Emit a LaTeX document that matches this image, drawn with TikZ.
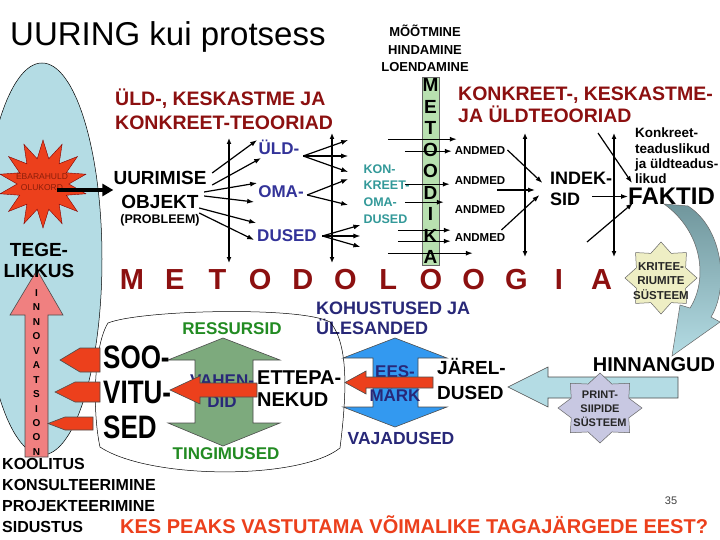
\documentclass[tikz,border=0pt]{standalone}
\usepackage{fontspec}
\setmainfont{Liberation Sans}
\usetikzlibrary{shapes.geometric, arrows.meta, positioning}

\definecolor{skyfill}{RGB}{180,220,228}
\definecolor{theoryred}{RGB}{140,16,16}
\definecolor{propblue}{RGB}{51,51,153}
\definecolor{dutyblue}{RGB}{40,40,120}
\definecolor{tealtxt}{RGB}{51,153,153}
\definecolor{colgreen}{RGB}{184,224,176}
\definecolor{redarr}{RGB}{236,64,28}
\definecolor{pinkarr}{RGB}{240,128,128}
\definecolor{sagegreen}{RGB}{125,170,125}
\definecolor{aimblue}{RGB}{51,153,240}
\definecolor{paleyellow}{RGB}{238,238,196}
\definecolor{lavgray}{RGB}{200,200,226}
\definecolor{slate}{RGB}{112,150,156}
\definecolor{resgreen}{RGB}{34,139,34}
\definecolor{ebarared}{RGB}{140,30,10}

\tikzset{
  txt/.style 2 args={inner sep=0pt, align=center, font=\bfseries\fontsize{#1}{#2}\selectfont},
  arr/.style={-{Latex[length=7pt,width=5pt]}, line width=1.2pt},
  varr/.style={{Latex[length=6pt,width=5pt]}-{Latex[length=6pt,width=5pt]}, line width=1.2pt},
  bigarr/.style={-{Triangle[length=11pt,width=12pt]}, line width=3.5pt},
  blockarr/.style={draw=black!70, line width=0.6pt},
  seal/.style={star, star points=8, star point ratio=1.35, inner sep=0pt, draw=black!60, line width=0.5pt},
}

\begin{document}
\begin{tikzpicture}[x=1pt, y=-1pt]
  \useasboundingbox (0,0) rectangle (720,540);
  \clip (0,0) rectangle (720,540);
  \fill[white] (0,0) rectangle (720,540);

  % tegelikkus
  \draw[fill=skyfill, line width=0.5pt] (42,259) ellipse [x radius=60, y radius=196];
  \node[star, star points=14, star point ratio=1.7, minimum size=88, inner sep=0pt,
    fill=redarr, draw=red!50!black] (ebara) at (43,184) {};
  \node[inner sep=0pt, align=center, text=ebarared, font=\fontsize{8.5}{11.5}\selectfont]
    (ebaratxt) at (42,182) {EBARAHULD\\OLUKORD};
  \draw[blockarr, fill=pinkarr] (37,270) -- (63,315) -- (48,315) -- (48,457) -- (25,457)
    -- (25,315) -- (10,315) -- cycle;
  \foreach \ch [count=\i from 0] in {I,N,N,O,V,A,T,S,I,O,O,N}
    \node[txt={10}{10}] (inn\i) at (36.5,293+14.45*\i) {\ch};
  \node[txt={19}{21}] (tegelikkus) at (39,260.5) {TEGE-\\LIKKUS};

  \node[anchor=base west, inner sep=0pt, font=\fontsize{33}{33}\selectfont] (title) at (10,46)
    {UURING kui protsess};

  % teooriad
  \node[txt={19.5}{24}, align=left, anchor=west, text=theoryred] (uldkesk) at (115,109)
    {ÜLD-, KESKASTME JA\\KONKREET-TEOORIAD};
  \node[txt={19.5}{22}, align=left, anchor=west, text=theoryred] (konkesk) at (458,105)
    {KONKREET-, KESKASTME-\\JA ÜLDTEOORIAD};
  \node[txt={13}{17.5}] (mootmine) at (425,48.5) {MÕÕTMINE\\HINDAMINE\\LOENDAMINE};

  % objekt ja omadused
  \node[txt={19}{24}] (objekt) at (160,190) {UURIMISE\\OBJEKT};
  \node[txt={12.5}{14}] (problem) at (160,220) {(PROBLEEM)};
  \draw[bigarr] ([shift={(14,6)}]ebara.center) -- (objekt.west);

  \node[txt={17}{17}, text=propblue] (uld) at (279,147.5) {ÜLD-};
  \node[txt={17}{17}, text=propblue] (oma) at (281,191.5) {OMA-};
  \node[txt={17}{17}, text=propblue] (dused) at (287,236) {DUSED};
  \node[txt={12.5}{16.7}, align=left, text=tealtxt] (konoma) at (386.5,194)
    {KON-\\KREET-\\OMA-\\DUSED};

  \foreach \dx/\dy/\rx/\ry in {5.5/-17/45/-33, 5.5/-5/49/-27, -2.5/2/53/-9,
      -2.5/6/50/6, -7.5/18/57/15, -7.5/23/55/27}
    \draw[arr] ([shift={(\dx,\dy)}]objekt.east) -- ++(\rx,\ry);
  \foreach \ry in {-16,0,16}
    \draw[arr] ([shift={(3.7,8.5)}]uld.east) -- ++(45,\ry);
  \foreach \ry in {-16,10}
    \draw[arr] ([shift={(3.3,3.5)}]oma.east) -- ++(41,\ry);
  \foreach \ry in {-11,0,11}
    \draw[arr] ([shift={(5.5,0)}]dused.east) -- ++(38,\ry);

  \draw[varr] (229,138) -- (229,263);
  \draw[varr] (332,133) -- (332,263);
  \draw[varr] (525,133) -- (525,257);
  \draw[varr] (614,133) -- (614,257);

  % metoodika
  \node[draw=black!60, fill=colgreen, minimum width=17, minimum height=188, inner sep=0pt,
    anchor=north] (metood) at (430.5,77) {};
  \foreach \ch [count=\i from 0] in {M,E,T,O,O,D,I,K,A}
    \node[txt={19}{19}] (mk\i) at (430.5,85+21.5*\i) {\ch};
  \foreach \y [count=\i] in {151,181,210,238}
    \node[txt={11.5}{12}] (andmed\i) at (480,\y) {ANDMED};
  \foreach \dx/\dy/\len in {-34/-32/69, -17/-20/47, -17/13/45, -17/31/39,
      -24/59/53, -24/70/53, -34/82/85}
    \draw[arr] ([shift={(\dx,\dy)}]metood.west) -- ++(\len,0);

  \node[txt={18}{21}, align=left, anchor=west] (indeks) at (550,189) {INDEK-\\SID};
  \node[txt={24}{24}, anchor=west] (faktid) at (628,196.5) {FAKTID};
  \node[inner sep=0pt, align=left, anchor=north west, font=\bfseries\fontsize{13.5}{15.3}\selectfont]
    (teadus) at (635,128) {Konkreet-\\teaduslikud\\ja üldteadus-\\likud};

  \draw[arr] ([shift={(2,-1)}]andmed1.east) -- ++(35,33);
  \draw[arr] ([shift={(-53,1)}]indeks.west) -- ++(38,0);
  \draw[arr] ([shift={(-4,-8)}]andmed4.east) -- ++(38,-35);
  \draw[arr] ([xshift=-36pt]faktid.west) -- (faktid.west);
  \draw[arr] ([shift={(-30,-63.5)}]faktid.west) -- ++(34,50);
  \draw[arr] ([shift={(-41,45.5)}]faktid.west) -- ++(46,-39);

  \foreach \ch [count=\i from 0] in {M,E,T,O,D,O,L,O,O,G,I,A}
    \node[txt={29}{29}, text=theoryred] (meto\i) at (132+42.7*\i,280) {\ch};

  % hindamine
  \shade[top color=slate, bottom color=skyfill, draw=black!60, line width=0.5pt]
    (664,204) -- (688,206) .. controls (725,230) and (728,290) .. (711,317)
    -- (720,322) -- (672,356) -- (680,305) -- (690,308)
    .. controls (708,280) and (703,232) .. cycle;
  \node[seal, minimum size=72, fill=paleyellow] (kritstar) at (661,278) {};
  \node[txt={11.5}{14.5}, text=black!85] (krittxt) at ([yshift=-3pt]kritstar.center)
    {KRITEE-\\RIUMITE\\SÜSTEEM};
  \node[txt={20}{20}] (hinn) at (654,365) {HINNANGUD};
  \draw[blockarr, fill=skyfill] (678,377) -- (548,377) -- (548,367) -- (508,387)
    -- (548,407) -- (548,398) -- (678,398) -- cycle;
  \begin{scope}[shift={(600,408)}, xscale=1.2]
    \node[seal, minimum size=70, fill=lavgray, transform shape] (printstar) at (0,0) {};
  \end{scope}
  \node[txt={11}{14}, text=black!85] (printtxt) at ([yshift=-1pt]printstar.center)
    {PRINT-\\SIIPIDE\\SÜSTEEM};

  % kohustused ja vajadused
  \node[txt={18}{20}, align=left, anchor=west, text=dutyblue] (kohust) at (316,318.5)
    {KOHUSTUSED JA\\ÜLESANDED};
  \draw[line width=0.5pt] (108,323) .. controls (140,310) and (300,306) .. (330,322)
    .. controls (350,345) and (346,400) .. (340,448)
    .. controls (300,480) and (150,480) .. (100,447)
    .. controls (92,410) and (94,345) .. cycle;

  \draw[blockarr, fill=sagegreen] (223,338) -- (280,360) -- (253,360) -- (253,423)
    -- (280,423) -- (223,446) -- (168,423) -- (195,423) -- (195,360) -- (168,360) -- cycle;
  \node[txt={17}{17}, text=resgreen] (ress) at (232,329) {RESSURSID};
  \node[txt={17}{17}, text=resgreen] (tingim) at (226,454) {TINGIMUSED};
  \node[txt={17}{21}, text=dutyblue] (vahen) at (222,391.4) {VAHEN-\\DID};
  \node[txt={20}{22}, align=left, anchor=west] (ettepa) at (257,388.8) {ETTEPA-\\NEKUD};
  \draw[blockarr, fill=redarr] (257,383) -- (200,383) -- (200,376) -- (170,390)
    -- (200,404) -- (200,397) -- (257,397) -- cycle;

  \draw[blockarr, fill=aimblue] (395,338) -- (447,358) -- (418,358) -- (418,407)
    -- (447,407) -- (395,427) -- (343,407) -- (373,407) -- (373,358) -- (343,358) -- cycle;
  \node[txt={17}{24}, text=dutyblue] (eesmark) at (395,384) {EES-\\MÄRK};
  \draw[blockarr, fill=redarr] (433,377) -- (366,377) -- (366,371) -- (345,382.5)
    -- (366,394) -- (366,388) -- (433,388) -- cycle;
  \node[txt={19}{25}, align=left, anchor=west] (jarel) at (437,378.5) {JÄREL-\\DUSED};
  \node[txt={17.5}{18}, text=dutyblue] (vaja) at (401,438) {VAJADUSED};

  % soovitused
  \node[inner sep=0pt, anchor=west, font=\bfseries\fontsize{26}{26}\selectfont] (soo)
    at (103,357) {\scalebox{1}[1.25]{SOO-}};
  \node[inner sep=0pt, anchor=west, font=\bfseries\fontsize{26}{26}\selectfont] (vitu)
    at (103,392) {\scalebox{1}[1.25]{VITU-}};
  \node[inner sep=0pt, anchor=west, font=\bfseries\fontsize{26}{26}\selectfont] (sed)
    at (103,427) {\scalebox{1}[1.25]{SED}};
  \draw[blockarr, fill=redarr] (100,348) -- (80,348) -- (60,360) -- (80,372) -- (100,372) -- cycle;
  \draw[blockarr, fill=redarr] (100,382) -- (75,382) -- (55,392) -- (75,402) -- (100,402) -- cycle;
  \draw[blockarr, fill=redarr] (93,417) -- (65,417) -- (48,423.5) -- (65,430) -- (93,430) -- cycle;

  \node[inner sep=0pt, align=left, anchor=south west, font=\bfseries\fontsize{16}{21}\selectfont]
    (services) at (2,533) {KOOLITUS\\KONSULTEERIMINE\\PROJEKTEERIMINE\\SIDUSTUS};
  \node[anchor=base west, inner sep=0pt, font=\bfseries\fontsize{20}{20}\selectfont, text=redarr]
    (question) at (120,533) {KES PEAKS VASTUTAMA VÕIMALIKE TAGAJÄRGEDE EEST?};
  \node[inner sep=0pt, font=\fontsize{11}{11}\selectfont, text=black!75] (pnum) at (671,501) {35};
\end{tikzpicture}
\end{document}
